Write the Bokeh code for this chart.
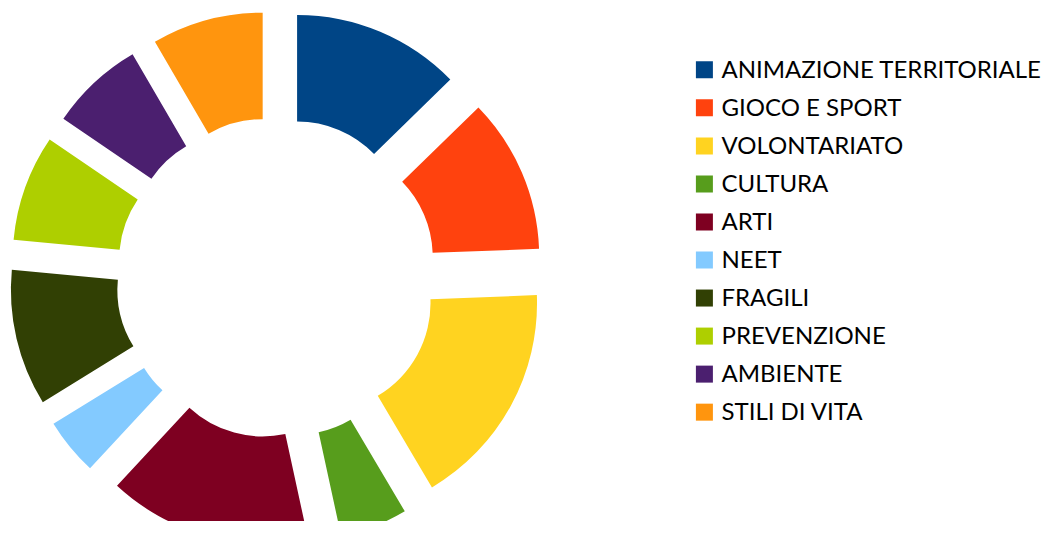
import math
from bokeh.plotting import figure
from bokeh.models import ColumnDataSource, Range1d
from bokeh.core.properties import value
from bokeh.embed import file_html
from bokeh.resources import INLINE

# ---- data (share of the ring in %) ----
categories = ["ANIMAZIONE TERRITORIALE", "GIOCO E SPORT", "VOLONTARIATO", "CULTURA", "ARTI",
              "NEET", "FRAGILI", "PREVENZIONE", "AMBIENTE", "STILI DI VITA"]
shares = [12.7, 11.7, 17.1, 5.1, 15.3, 4.3, 10.3, 8.0, 7.1, 8.4]
colors = ["#004586", "#ff420e", "#ffd320", "#579d1c", "#7e0021",
          "#83caff", "#314004", "#aecf00", "#4b1f6f", "#ff950e"]

# ---- layout ----
W, H = 1043, 521
def py(y):  # picture pixel row -> data y (plot top = row 0)
    return H - y

CX, CY = 276.0, py(277.3)
R_OUT, R_IN = 214, 107.5
EXPLODE = 53

total = sum(shares)
xs, ys, starts, ends = [], [], [], []
acc = 0.0
for s in shares:
    t0 = acc / total * 2 * math.pi
    acc += s
    t1 = acc / total * 2 * math.pi
    mid = (t0 + t1) / 2
    xs.append(CX + EXPLODE * math.sin(mid))
    ys.append(CY + EXPLODE * math.cos(mid))
    starts.append(math.pi / 2 - t0)
    ends.append(math.pi / 2 - t1)

src = ColumnDataSource(dict(x=xs, y=ys, start=starts, end=ends, color=colors, cat=categories))

p = figure(width=W, height=H, output_backend="svg", toolbar_location=None,
           x_range=Range1d(0, W), y_range=Range1d(0, H),
           min_border=0)
p.axis.visible = False
p.grid.visible = False
p.outline_line_color = None
p.background_fill_color = "white"
p.border_fill_color = "white"

p.annular_wedge(x="x", y="y", inner_radius=R_IN, outer_radius=R_OUT,
                start_angle="start", end_angle="end", direction="clock",
                fill_color="color", line_color=None, source=src)

# ---- legend ----
LEG_X = 703.9
LEG_Y0 = 69.3
LEG_DY = 38.04
n = len(categories)
leg_sq_y = [py(LEG_Y0 + i * LEG_DY) for i in range(n)]
leg_tx_y = [py(LEG_Y0 - 1.8 + i * LEG_DY) for i in range(n)]
lsrc = ColumnDataSource(dict(xs=[LEG_X] * n, ys=leg_sq_y, yt=leg_tx_y,
                             xt=[721] * n, color=colors, cat=categories))
p.rect(x="xs", y="ys", width=17, height=17, width_units="screen", height_units="screen",
       fill_color="color", line_color=None, source=lsrc)
p.text(x="xt", y="yt", text="cat", source=lsrc, text_font=value("Lato"),
       text_font_size="24px", text_color="#000000", text_baseline="alphabetic",
       text_align="left")

open("out.html", "w").write(file_html(p, INLINE))
